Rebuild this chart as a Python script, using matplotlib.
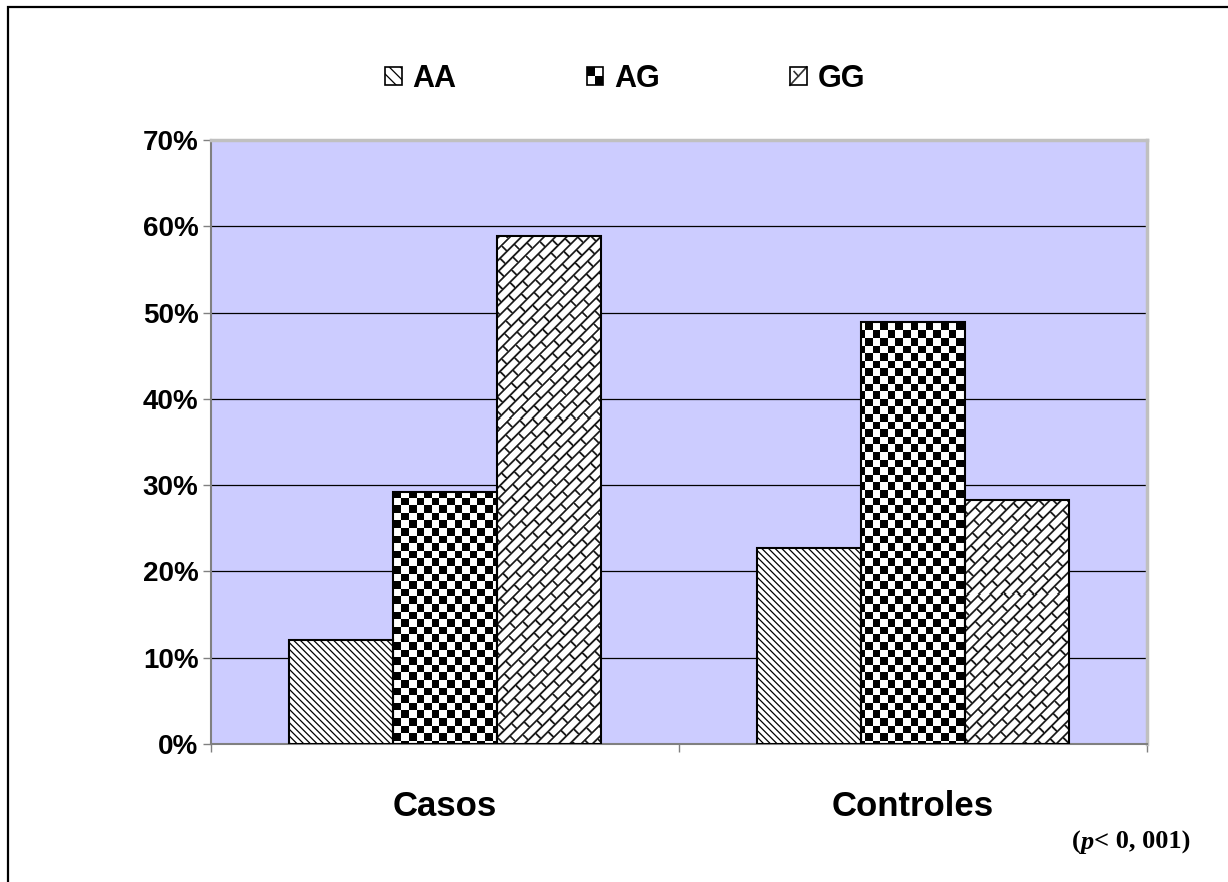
import numpy as np
import matplotlib
matplotlib.use('Agg')
import matplotlib.pyplot as plt
from matplotlib.patches import Rectangle, Patch
from matplotlib.lines import Line2D
from matplotlib.legend_handler import HandlerBase

groups = ['Casos', 'Controles']
genotypes = ['AA', 'AG', 'GG']
casos = [12.1, 29.2, 58.9]
controles = [22.7, 48.9, 28.3]
yticks = [0, 10, 20, 30, 40, 50, 60, 70]
p_label = ['(', 'p', '< 0, 001)']

plt.rcParams['font.family'] = ['Liberation Sans', 'DejaVu Sans']
plt.rcParams['font.weight'] = 'bold'
plt.rcParams['hatch.linewidth'] = 0.9

AA_HATCH = '\\\\\\\\\\'


def checker(h, w, cell=7.6):
    yy, xx = np.mgrid[0:h, 0:w]
    c = ((xx // cell).astype(int) + (yy // cell).astype(int)) % 2
    v = np.where(c == 0, 0.0, 1.0)
    return np.dstack([v, v, v])


def bricks(h, w, pt=8.0, ps=20.0, lw=1.8):
    yy, xx = np.mgrid[0:h, 0:w].astype(float)
    s = (xx - yy) / np.sqrt(2)
    t = (xx + yy) / np.sqrt(2)
    row = np.floor(t / pt)
    dt = np.minimum(t % pt, pt - t % pt)
    sp = s + (row % 2) * ps / 2
    ds = np.minimum(sp % ps, ps - sp % ps)
    d = np.minimum(dt, ds)
    v = np.clip(d - lw / 2 + 0.5, 0, 1)
    v = 0.1 + 0.9 * v
    return np.dstack([v, v, v])


class SwatchHandler(HandlerBase):
    def __init__(self, kind):
        super().__init__()
        self.kind = kind

    def create_artists(self, legend, orig_handle, xdescent, ydescent,
                       width, height, fontsize, trans):
        x0, y0 = -xdescent, -ydescent
        arts = []
        if self.kind == 'AA':
            arts.append(Rectangle((x0, y0), width, height, facecolor='white',
                                  edgecolor='black', hatch='\\\\\\', lw=1.2,
                                  transform=trans))
            return arts
        arts.append(Rectangle((x0, y0), width, height, facecolor='white',
                              edgecolor='none', transform=trans))
        if self.kind == 'AG':
            arts.append(Rectangle((x0, y0 + height / 2), width / 2, height / 2,
                                  facecolor='black', edgecolor='none', transform=trans))
            arts.append(Rectangle((x0 + width / 2, y0), width / 2, height / 2,
                                  facecolor='black', edgecolor='none', transform=trans))
        else:
            arts.append(Line2D([x0, x0 + width], [y0, y0 + height], color='#333333',
                               lw=1.2, transform=trans))
            arts.append(Line2D([x0 + width * 0.25, x0 + width * 0.5],
                               [y0 + height * 0.75, y0 + height * 0.5],
                               color='#333333', lw=1.2, transform=trans))
        arts.append(Rectangle((x0, y0), width, height, facecolor='none',
                              edgecolor='black', lw=1.2, transform=trans))
        return arts


fig = plt.figure(figsize=(12.28, 8.82), dpi=100)
ax_rect = [0.1718, 0.1565, 0.7622, 0.6848]
ax = fig.add_axes(ax_rect)
ax.set_facecolor('#CCCCFF')

x = np.arange(len(groups))
width = 0.222
values = np.array([casos, controles])

# pixel size of the plot area, used for the bar textures
pw = int(round(ax_rect[2] * 1228))
ph = int(round(ax_rect[3] * 882))
textures = {'AG': checker(ph, pw), 'GG': bricks(ph, pw)}

for i, g in enumerate(genotypes):
    pos = x + (i - 1) * width
    if g == 'AA':
        ax.bar(pos, values[:, i], width, facecolor='white', edgecolor='black',
               hatch=AA_HATCH, lw=1.5, zorder=3)
        continue
    bars = ax.bar(pos, values[:, i], width, facecolor='none', edgecolor='black',
                  lw=1.5, zorder=3)
    for b in bars:
        im = ax.imshow(textures[g], extent=(-0.5, 1.5, 0, 70), origin='upper',
                       aspect='auto', interpolation='nearest', zorder=2)
        im.set_clip_path(b)

ax.set_xlim(-0.5, 1.5)
ax.set_ylim(0, 70)

# axes styling
ax.set_axisbelow(True)
ax.yaxis.grid(True, color='black', lw=0.9)
ax.set_yticks(yticks)
ax.set_yticklabels([f'{v}%' for v in yticks], fontsize=20)
ax.tick_params(axis='y', direction='out', length=6, width=1, color='#808080', pad=3)
ax.set_xticks(x)
ax.set_xticklabels(groups, fontsize=25)
ax.tick_params(axis='x', which='major', length=0, pad=33)
ax.set_xticks([-0.5, 0.5, 1.5], minor=True)
ax.tick_params(axis='x', which='minor', direction='out', length=6, width=1, color='#808080')
for side in ['left', 'bottom']:
    ax.spines[side].set_color('#808080')
    ax.spines[side].set_linewidth(1.5)
for side in ['top', 'right']:
    ax.spines[side].set_color('#C0C0C0')
    ax.spines[side].set_linewidth(2.5)

# legend
handles = [Patch(label=g) for g in genotypes]
hmap = {h: SwatchHandler(g) for h, g in zip(handles, genotypes)}
fig.legend(handles, genotypes, handler_map=hmap, loc='center',
           bbox_to_anchor=(0.5090, 0.9105), ncol=3, frameon=False, fontsize=22,
           handlelength=0.55, handleheight=0.55, handletextpad=0.36,
           columnspacing=4.25)

# chart frame
fig.add_artist(Rectangle((8 / 1228, -0.05), 1.1, 1 - 7 / 882 + 0.05,
                         transform=fig.transFigure, fill=False,
                         edgecolor='black', lw=1.6))

# p-value note
serif = dict(family='Liberation Serif', weight='bold', fontsize=19)
t = fig.text(1072 / 1228, 1 - 854 / 882, p_label[0], ha='left', va='bottom', **serif)
t = ax.annotate(p_label[1], xy=(1, 0), xycoords=t, ha='left', va='bottom',
                fontstyle='italic', **serif)
ax.annotate(p_label[2], xy=(1, 0), xycoords=t, ha='left', va='bottom', **serif)

fig.savefig('out.png', dpi=100)
